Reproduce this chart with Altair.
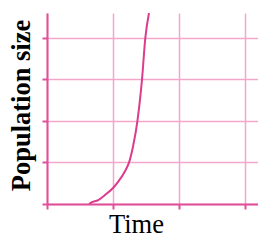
import altair as alt
import pandas as pd

time = [0.64, 0.652, 0.777, 0.879, 1.0, 1.08, 1.192, 1.242, 1.308, 1.368, 1.439, 1.489, 1.545]
population = [0.0, 0.017, 0.096, 0.217, 0.386, 0.54, 0.82, 0.995, 1.42, 1.98, 2.99, 3.99, 4.6]
x_ticks = [0, 1, 2, 3]
y_ticks = [0, 1, 2, 3, 4]

df = pd.DataFrame({"t": time, "p": population})

axis_common = dict(
    labels=False,
    titleFont="Liberation Serif", titleFontSize=26.5, titleColor="#000000",
    titleAnchor="middle", titleBaseline="alphabetic",
    tickColor="#e0509a", tickSize=5, tickWidth=2,
    domainColor="#e0509a", domainWidth=2,
    gridColor="#f2a6cc", gridWidth=1.5,
)

chart = alt.Chart(df).mark_line(
    color="#dc3c8c", strokeWidth=2, interpolate="monotone", clip=True
).encode(
    x=alt.X("t:Q", scale=alt.Scale(domain=[0, 211 / 66], nice=False, zero=False),
            axis=alt.Axis(values=x_ticks, title="Time", titleFontWeight="normal",
                          titleX=89, titleY=28, **axis_common)),
    y=alt.Y("p:Q", scale=alt.Scale(domain=[0, 4.6], nice=False),
            axis=alt.Axis(values=y_ticks, title="Population size",
                          titleFontWeight="bold", titleX=-18, titleY=92,
                          titleAngle=270, **axis_common)),
).properties(
    width=211, height=191,
    autosize=alt.AutoSizeParams(type="none"),
    padding={"left": 39, "top": 5, "right": 0, "bottom": 29},
).configure_view(stroke=None)

chart.save("out.html", embed_options={"renderer": "svg", "actions": False})
